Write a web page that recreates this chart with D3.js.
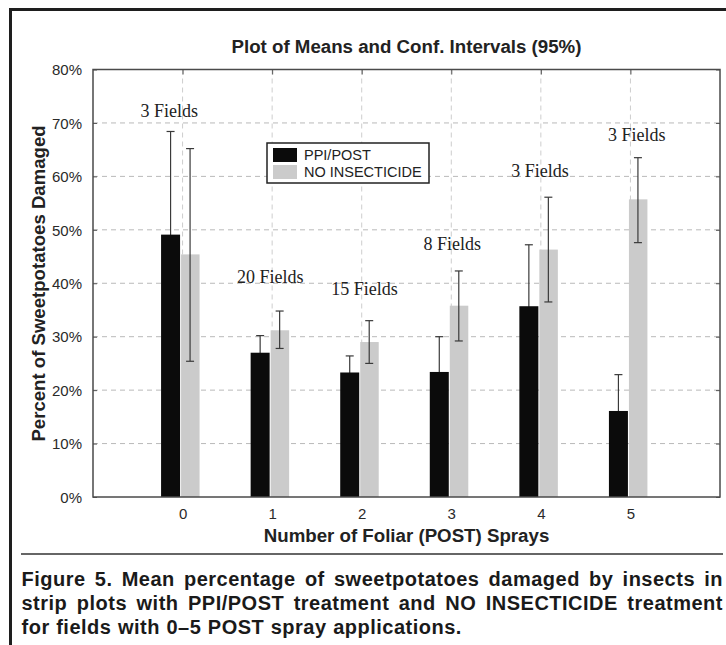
<!DOCTYPE html>
<html>
<head>
<meta charset="utf-8">
<script src="https://cdn.jsdelivr.net/npm/d3@7"></script>
<style>
  body { margin: 0; background: #fff; }
  svg { display: block; font-family: "Liberation Sans", Arial, sans-serif; }
</style>
</head>
<body>
<div id="chart"></div>
<script>
// data
var sprays = [0, 1, 2, 3, 4, 5];
var fieldLabels = ["3 Fields", "20 Fields", "15 Fields", "8 Fields", "3 Fields", "3 Fields"];
// where each field-count note sits (x in sprays, y in percent)
var labelX = [-0.15, 0.98, 2.03, 3.01, 3.99, 5.07];
var labelY = [71.2, 40.0, 37.8, 46.2, 59.8, 66.7];

var ppiMean  = [49.1, 27.0, 23.3, 23.4, 35.7, 16.1];
var ppiLow   = [29.8, 23.8, 20.2, 16.8, 24.2, 9.3];
var ppiHigh  = [68.4, 30.2, 26.4, 30.0, 47.2, 22.9];

var noneMean = [45.4, 31.2, 29.0, 35.8, 46.3, 55.7];
var noneLow  = [25.4, 27.8, 25.0, 29.2, 36.5, 47.6];
var noneHigh = [65.2, 34.8, 33.0, 42.3, 56.1, 63.5];

var yTicks = [0, 10, 20, 30, 40, 50, 60, 70, 80];
var seriesNames = ["PPI/POST", "NO INSECTICIDE"];
var seriesColors = ["#0b0b0b", "#cbcbcb"];

var captionLines = [
    "Figure 5. Mean percentage of sweetpotatoes damaged by insects in",
    "strip plots with PPI/POST treatment and NO INSECTICIDE treatment",
    "for fields with 0\u20135 POST spray applications."
];

var width = 726, height = 645;
var plot = {left: 93, right: 720, top: 69.5, bottom: 497};

var svg = d3.select("#chart").append("svg")
    .attr("width", width)
    .attr("height", height);

svg.append("rect").attr("width", width).attr("height", height).attr("fill", "#fff");

// outer frame (left and top only are visible)
svg.append("path")
    .attr("d", "M10.5,645 L10.5,9.5 L726,9.5")
    .attr("fill", "none")
    .attr("stroke", "#1e1e1e")
    .attr("stroke-width", 3);

var x = d3.scaleLinear().domain([-1, 6]).range([plot.left, plot.right]);
var y = d3.scaleLinear().domain([0, 80]).range([plot.bottom, plot.top]);

// grid
var grid = svg.append("g").attr("class", "grid");
grid.selectAll(".hgrid")
    .data(yTicks.filter(function(d) { return d > 0 && d < 80; }))
    .enter().append("line")
    .attr("x1", plot.left).attr("x2", plot.right)
    .attr("y1", function(d) { return y(d); })
    .attr("y2", function(d) { return y(d); })
    .attr("stroke", "#b9b9b9")
    .attr("stroke-width", 1)
    .attr("stroke-dasharray", "5,4");
grid.selectAll(".vgrid")
    .data(sprays)
    .enter().append("line")
    .attr("x1", function(d) { return x(d); })
    .attr("x2", function(d) { return x(d); })
    .attr("y1", plot.top).attr("y2", plot.bottom)
    .attr("stroke", "#cdcdcd")
    .attr("stroke-width", 1)
    .attr("stroke-dasharray", "5,4");

// axes (ticks pointing inward on all sides)
var yAxis = d3.axisLeft(y).tickValues(yTicks).tickSize(-4).tickPadding(11)
    .tickFormat(function(d) { return d + "%"; });
var yAxisR = d3.axisRight(y).tickValues(yTicks).tickSize(-4).tickFormat("");
var xAxis = d3.axisBottom(x).tickValues(sprays).tickSize(-4).tickPadding(11)
    .tickFormat(d3.format("d"));
var xAxisT = d3.axisTop(x).tickValues(sprays).tickSize(-5).tickFormat("");

function styleAxis(g) {
    g.select(".domain").remove();
    g.selectAll(".tick line").attr("stroke", "#555");
    g.selectAll(".tick text")
        .attr("fill", "#2a2a2a")
        .style("font-size", "15px")
        .style("font-family", "'Liberation Sans', Arial, sans-serif");
}

svg.append("g").attr("transform", "translate(" + plot.left + ",0)").call(yAxis).call(styleAxis)
    .selectAll(".tick text").attr("dy", "0.35em");
svg.append("g").attr("transform", "translate(" + plot.right + ",0)").call(yAxisR).call(styleAxis);
svg.append("g").attr("transform", "translate(0," + plot.bottom + ")").call(xAxis).call(styleAxis);
svg.append("g").attr("transform", "translate(0," + plot.top + ")").call(xAxisT).call(styleAxis);

var rows = sprays.map(function(s, i) {
    return {s: s, ppi: ppiMean[i], ppiLo: ppiLow[i], ppiHi: ppiHigh[i],
            none: noneMean[i], noneLo: noneLow[i], noneHi: noneHigh[i]};
});

// error bars
function errorBars(cls, dx, lo, hi) {
    var g = svg.selectAll("." + cls).data(rows).enter().append("g").attr("class", cls);
    g.append("line")
        .attr("x1", function(d) { return x(d.s) + dx; })
        .attr("x2", function(d) { return x(d.s) + dx; })
        .attr("y1", function(d) { return y(d[lo]); })
        .attr("y2", function(d) { return y(d[hi]); });
    [lo, hi].forEach(function(k) {
        g.append("line")
            .attr("x1", function(d) { return x(d.s) + dx - 4; })
            .attr("x2", function(d) { return x(d.s) + dx + 4; })
            .attr("y1", function(d) { return y(d[k]); })
            .attr("y2", function(d) { return y(d[k]); });
    });
    g.selectAll("line").attr("stroke", "#3a3a3a").attr("stroke-width", 1.2);
}

// black bars sit over their own whiskers, so the lower half is hidden
errorBars("errPpi", -12, "ppiLo", "ppiHi");

svg.selectAll(".barPpi")
    .data(rows).enter().append("rect")
    .attr("class", "barPpi")
    .attr("x", function(d) { return x(d.s) - 21.5; })
    .attr("width", 19)
    .attr("y", function(d) { return y(d.ppi); })
    .attr("height", function(d) { return y(0) - y(d.ppi); })
    .attr("fill", seriesColors[0]);

svg.selectAll(".barNone")
    .data(rows).enter().append("rect")
    .attr("class", "barNone")
    .attr("x", function(d) { return x(d.s) - 1.5; })
    .attr("width", 18.5)
    .attr("y", function(d) { return y(d.none); })
    .attr("height", function(d) { return y(0) - y(d.none); })
    .attr("fill", seriesColors[1]);

errorBars("errNone", 7.5, "noneLo", "noneHi");

// plot frame
svg.append("rect")
    .attr("x", plot.left).attr("y", plot.top)
    .attr("width", plot.right - plot.left)
    .attr("height", plot.bottom - plot.top)
    .attr("fill", "none")
    .attr("stroke", "#4a4a4a")
    .attr("stroke-width", 1.5);

// field counts
svg.selectAll(".fields")
    .data(fieldLabels).enter().append("text")
    .attr("class", "fields")
    .attr("x", function(d, i) { return x(labelX[i]); })
    .attr("y", function(d, i) { return y(labelY[i]); })
    .attr("text-anchor", "middle")
    .style("font-family", "'Liberation Serif', 'Times New Roman', serif")
    .style("font-size", "18px")
    .attr("fill", "#222")
    .text(function(d) { return d; });

// legend
var legend = svg.append("g").attr("transform", "translate(267,143)");
legend.append("rect")
    .attr("width", 162).attr("height", 40)
    .attr("fill", "#fff").attr("stroke", "#222").attr("stroke-width", 1.5);
seriesNames.forEach(function(name, i) {
    legend.append("rect")
        .attr("x", 6).attr("y", 5 + i * 17)
        .attr("width", 24).attr("height", 14)
        .attr("fill", seriesColors[i]);
    legend.append("text")
        .attr("x", 37).attr("y", 17 + i * 17)
        .style("font-size", "14.5px")
        .attr("fill", "#222")
        .text(name);
});

// titles
svg.append("text")
    .attr("x", (plot.left + plot.right) / 2).attr("y", 52.5)
    .attr("text-anchor", "middle")
    .style("font-size", "18.7px").style("font-weight", "bold")
    .attr("fill", "#222")
    .text("Plot of Means and Conf. Intervals (95%)");

svg.append("text")
    .attr("x", (plot.left + plot.right) / 2).attr("y", 542)
    .attr("text-anchor", "middle")
    .style("font-size", "18.7px").style("font-weight", "bold")
    .attr("fill", "#222")
    .text("Number of Foliar (POST) Sprays");

svg.append("text")
    .attr("transform", "translate(44.5,283.5) rotate(-90)")
    .attr("text-anchor", "middle")
    .style("font-size", "18.6px").style("font-weight", "bold")
    .attr("fill", "#222")
    .text("Percent of Sweetpotatoes Damaged");

// separator
svg.append("line")
    .attr("x1", 21).attr("x2", 723)
    .attr("y1", 554).attr("y2", 554)
    .attr("stroke", "#666").attr("stroke-width", 2);

// caption, first two lines justified
var capLeft = 21.5, capRight = 723, capTop = 585.5, capStep = 24;
captionLines.forEach(function(line, li) {
    var words = line.split(" ");
    var g = svg.append("g");
    var texts = words.map(function(w) {
        return g.append("text")
            .attr("y", capTop + li * capStep)
            .style("font-size", "20px").style("font-weight", "bold")
            .style("letter-spacing", "0.5px")
            .attr("fill", "#1a1a1a")
            .text(w);
    });
    var widths = texts.map(function(t) { return t.node().getComputedTextLength(); });
    var total = d3.sum(widths);
    var gap = li < captionLines.length - 1
        ? (capRight - capLeft - total) / (words.length - 1)
        : 6.5;
    var cx = capLeft;
    texts.forEach(function(t, i) {
        t.attr("x", cx);
        cx += widths[i] + gap;
    });
});
</script>
</body>
</html>
